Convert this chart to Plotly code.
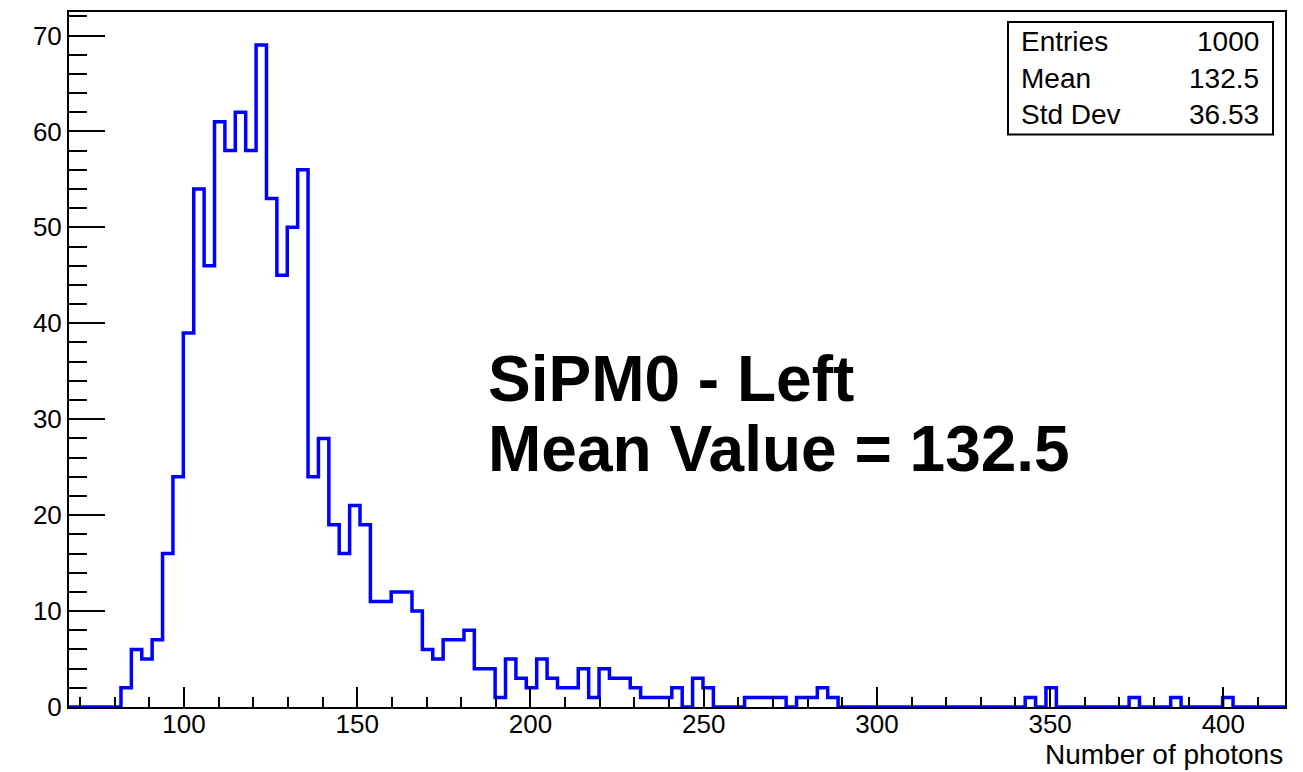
import numpy as np
import plotly.graph_objects as go

# ---- data ----
n_bins = 117
x_min = 66.8
x_max = 417.8
counts = [
    0, 0, 0, 0, 0, 2, 6, 5, 7, 16,
    24, 39, 54, 46, 61, 58, 62, 58, 69, 53,
    45, 50, 56, 24, 28, 19, 16, 21, 19, 11,
    11, 12, 12, 10, 6, 5, 7, 7, 8, 4,
    4, 1, 5, 3, 2, 5, 3, 2, 2, 4,
    1, 4, 3, 3, 2, 1, 1, 1, 2, 0,
    3, 2, 0, 0, 0, 1, 1, 1, 1, 0,
    1, 1, 2, 1, 0, 0, 0, 0, 0, 0,
    0, 0, 0, 0, 0, 0, 0, 0, 0, 0,
    0, 0, 1, 0, 2, 0, 0, 0, 0, 0,
    0, 0, 1, 0, 0, 0, 1, 0, 0, 0,
    0, 1, 0, 0, 0, 0, 0,
]
stat_labels = ["Entries", "Mean", "Std Dev"]
stat_values = ["1000", "132.5", "36.53"]
title_lines = ["SiPM0 - Left", "Mean Value = 132.5"]
x_title = "Number of photons"
y_max = 72.45

edges = np.linspace(x_min, x_max, n_bins + 1)
y_step = list(counts) + [counts[-1]]

# ---- layout geometry (pixels) ----
W, H = 1303, 772
L, R, T, B = 69, 1285, 10, 707.5


def px_x(p):
    return (p - L) / (R - L)


def px_y(p):
    return (B - p) / (B - T)


FONT = "Liberation Sans, Arial, Helvetica, sans-serif"

fig = go.Figure()
fig.add_trace(go.Scatter(
    x=edges, y=y_step, mode="lines", line_shape="hv",
    line=dict(color="#0000ff", width=3.5), hoverinfo="skip", showlegend=False,
))

axis_common = dict(
    showgrid=False, zeroline=False, showline=True, mirror=True,
    linecolor="black", linewidth=2, ticks="inside", tickcolor="black",
    tickwidth=2, tickfont=dict(family=FONT, size=26, color="black"),
)
fig.update_xaxes(
    range=[x_min, x_max], tick0=0, dtick=50, ticklen=20, ticklabelstandoff=-7,
    minor=dict(dtick=10, tick0=0, ticks="inside", ticklen=10, tickwidth=2, tickcolor="black"),
    **axis_common,
)
fig.update_yaxes(
    range=[0, y_max], tick0=0, dtick=10, ticklen=36,
    minor=dict(dtick=2, tick0=0, ticks="inside", ticklen=18, tickwidth=2, tickcolor="black"),
    **axis_common,
)

annotations = []
annotations.append(dict(
    xref="paper", yref="paper", x=1.0, y=px_y(755), xanchor="right", yanchor="middle",
    text=x_title, showarrow=False, font=dict(family=FONT, size=28, color="black"),
))
for i, line in enumerate(title_lines):
    annotations.append(dict(
        xref="paper", yref="paper", x=px_x(486), y=px_y([378, 449][i]),
        xanchor="left", yanchor="middle", text=line, showarrow=False,
        font=dict(family=FONT, size=64, color="black", weight="bold"),
    ))
row_y = [40, 77, 113]
for i in range(3):
    annotations.append(dict(
        xref="paper", yref="paper", x=px_x(1019), y=px_y(row_y[i]),
        xanchor="left", yanchor="middle", text=stat_labels[i], showarrow=False,
        font=dict(family=FONT, size=28, color="black"),
    ))
    annotations.append(dict(
        xref="paper", yref="paper", x=px_x(1261), y=px_y(row_y[i]),
        xanchor="right", yanchor="middle", text=stat_values[i], showarrow=False,
        font=dict(family=FONT, size=28, color="black"),
    ))

shapes = [dict(
    type="rect", xref="paper", yref="paper",
    x0=px_x(1008), x1=px_x(1273), y0=px_y(133), y1=px_y(20),
    line=dict(color="black", width=2), fillcolor="white", layer="above",
)]

fig.update_layout(
    width=W, height=H, autosize=False,
    margin=dict(l=L, r=W - R, t=T, b=H - B, pad=0),
    paper_bgcolor="white", plot_bgcolor="white",
    annotations=annotations, shapes=shapes, showlegend=False,
)
fig.write_html("out.html", config={"displayModeBar": False})
